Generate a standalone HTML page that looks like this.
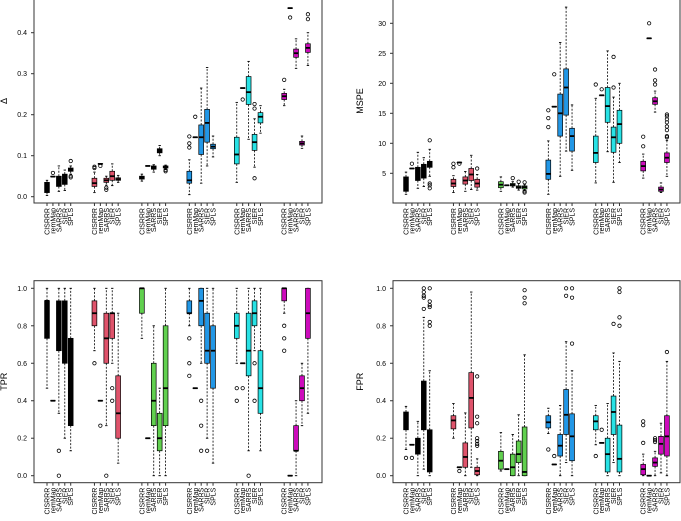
<!DOCTYPE html>
<html><head><meta charset="utf-8"><style>
html,body{margin:0;padding:0;background:#fff;width:681px;height:521px;overflow:hidden}
svg text{font-family:"Liberation Sans",sans-serif}
</style></head><body>
<svg id="chart" xmlns="http://www.w3.org/2000/svg" width="681" height="521" viewBox="0 0 681 521"></svg>
<script>
const methods = ["CISRRR","remMap","SARRS","SIER","SPLS"];
const groupColors = ["#000000","#DF536B","#61D04F","#2297E6","#28E2E5","#CD0BBC"];
const groupColorsDelta = ["#000000","#DF536B","#000000","#2297E6","#28E2E5","#CD0BBC"];

// Panel 1: Delta  [lo,q1,med,q3,hi]
const deltaStats = [
[0.003,0.01,0.02,0.035,0.04],[0.049,0.049,0.049,0.049,0.049],[0.013,0.025,0.035,0.05,0.075],[0.015,0.03,0.04,0.055,0.065],[0.055,0.062,0.066,0.07,0.075],
[0.01,0.025,0.033,0.045,0.06],[0.08,0.08,0.08,0.08,0.08],[0.028,0.035,0.04,0.045,0.05],[0.027,0.04,0.05,0.062,0.08],[0.035,0.04,0.043,0.046,0.052],
[0.038,0.043,0.047,0.05,0.055],[0.075,0.075,0.075,0.075,0.075],[0.06,0.067,0.072,0.075,0.078],[0.1,0.107,0.112,0.117,0.125],[0.067,0.07,0.073,0.075,0.077],
[0.005,0.033,0.04,0.062,0.09],[0.145,0.145,0.145,0.145,0.145],[0.033,0.103,0.145,0.175,0.265],[0.075,0.133,0.18,0.213,0.315],[0.097,0.117,0.122,0.128,0.148],
[0.035,0.08,0.103,0.145,0.23],[0.265,0.265,0.265,0.265,0.265],[0.14,0.225,0.255,0.293,0.33],[0.072,0.113,0.133,0.152,0.19],[0.155,0.18,0.195,0.205,0.222],
[0.222,0.237,0.245,0.252,0.262],[0.46,0.46,0.46,0.46,0.46],[0.313,0.34,0.35,0.36,0.385],[0.118,0.126,0.13,0.135,0.148],[0.32,0.352,0.363,0.373,0.4]];
const deltaOut = [[],[0.058],[],[],[0.087,0.05,0.047],
[0.07,0.073],[0.075],[0.022,0.017],[],[],
[],[],[],[],[0.065,0.062],
[0.12,0.13,0.147],[0.195],[],[],[],
[],[0.237],[],[0.045,0.215,0.226],[],
[0.285],[0.437],[],[],[0.433,0.445]];

// Panel 2: MSPE
const mspeStats = [
[1.5,2,3,4.4,5.2],[5.8,5.8,5.8,5.8,5.8],[2.5,3.8,5,6,8.5],[2.8,4.2,5.5,6.5,7.6],[4.5,6,6.3,7,9],
[1.8,2.8,3.3,4,4.6],[6.8,6.8,6.8,6.8,6.8],[2,3.2,3.8,4.4,5.3],[2.3,3.8,4.8,5.8,8],[2.2,2.7,3.3,4,4.8],
[2,2.6,3.1,3.6,4.4],[3,3,3,3,3],[2.7,2.9,3.1,3.3,3.6],[2.2,2.5,2.7,2.9,3.3],[2.1,2.4,2.7,2.9,3.1],
[1.5,4,4.9,7.2,10.4],[16.1,16.1,16.1,16.1,16.1],[4.5,11.2,15,18.2,26.8],[8.7,14.7,19.3,22.4,32.7],[5.5,8.7,11.2,12.5,16.4],
[3.4,6.8,8.4,11.2,17.5],[18,18,18,18,18],[8.6,13.5,16.2,19.3,25.4],[3.5,8.5,11,12.7,17.7],[6.8,10,13.2,15.5,20],
[4.2,5.4,6.2,7,8.2],[27.5,27.5,27.5,27.5,27.5],[15.2,16.5,17,17.6,18.7],[1.8,2,2.3,2.7,3.4],[4.5,6.8,7.6,8.4,10.5]];
const mspeOut = [[],[6.6],[],[],[10.5,3.3,3,2.5],
[6,6.6],[6.6],[],[],[5.8],
[],[],[4.2],[3.6],[3.5,2,1.8],
[12.7,14.2,15.5],[21.5],[],[],[],
[19.8],[19],[],[19.3,24.4],[],
[9.5,11.1],[30],[19.8,20.5,22.3],[],[11,11.2,12.2,12.8,13.5,14,14.5,14.8]];

// Panel 3: TPR
const tprStats = [
[0.467,0.733,0.933,0.933,1],[0.4,0.4,0.4,0.4,0.4],[0.333,0.667,0.867,0.933,1],[0.2,0.6,0.733,0.933,1],[0.133,0.267,0.6,0.733,1],
[0.667,0.8,0.867,0.933,1],[0.4,0.4,0.4,0.4,0.4],[0.267,0.6,0.733,0.867,1],[0.6,0.733,0.867,0.867,1],[0.067,0.2,0.333,0.533,0.867],
[0.733,0.867,1,1,1],[0.2,0.2,0.2,0.2,0.2],[0,0.267,0.4,0.6,0.8],[0,0.133,0.2,0.333,0.467],[0,0.267,0.467,0.8,1],
[0.8,0.867,0.867,0.933,1],[0.467,0.467,0.467,0.467,0.467],[0.6,0.8,0.933,1,1],[0.2,0.6,0.667,0.867,1],[0.067,0.467,0.667,0.8,1],
[0.6,0.733,0.8,0.867,1],[0.6,0.6,0.6,0.6,0.6],[0.133,0.533,0.667,0.867,1],[0.667,0.8,0.867,0.933,1],[0.133,0.333,0.467,0.667,1],
[0.867,0.933,1,1,1],[0,0,0,0,0],[0,0.133,0.133,0.267,0.4],[0.267,0.4,0.467,0.533,0.6],[0.333,0.733,0.867,1,1]];
const tprOut = [[],[],[0.133,0],[],[],
[0.6],[0.267],[0],[0.467,0.4],[],
[],[],[],[],[],
[0.733,0.6,0.533],[],[0.4,0.267,0.133],[0.133],[],
[0.467,0.4],[0.467],[0],[0.6,0.4],[],
[0.8,0.733,0.667],[],[],[],[]];

// Panel 4: FPR
const fprStats = [
[0.14,0.245,0.3,0.34,0.37],[0.165,0.165,0.165,0.165,0.165],[0,0.115,0.16,0.2,0.29],[0.035,0.245,0.3,0.505,0.845],[0,0.02,0.1,0.245,0.56],
[0.2,0.25,0.295,0.32,0.385],[0.045,0.045,0.045,0.045,0.045],[0,0.045,0.1,0.175,0.335],[0.045,0.255,0.415,0.55,0.98],[0,0.005,0.025,0.045,0.09],
[0.025,0.035,0.08,0.13,0.23],[0.035,0.035,0.035,0.035,0.035],[0,0,0.045,0.115,0.22],[0,0.07,0.115,0.185,0.325],[0,0,0.02,0.26,0.645],
[0.225,0.255,0.285,0.32,0.36],[0.06,0.06,0.06,0.06,0.06],[0,0.105,0.16,0.22,0.375],[0.07,0.22,0.325,0.46,0.715],[0,0.08,0.21,0.33,0.56],
[0.165,0.245,0.29,0.32,0.375],[0.175,0.175,0.175,0.175,0.175],[0,0.02,0.115,0.2,0.385],[0.07,0.22,0.34,0.425,0.655],[0,0.02,0.09,0.27,0.61],
[0,0.005,0.035,0.06,0.115],[0,0,0,0,0],[0,0.05,0.07,0.095,0.13],[0.015,0.115,0.17,0.21,0.28],[0,0.105,0.21,0.32,0.61]];
const fprOut = [[0.095],[0.095],[],[0.89,0.95,0.96,0.98,1.0],[0.8,0.82,0.9,0.91,0.93,1.0],
[],[0.025],[],[],[0.16,0.17,0.185,0.2,0.28,0.315,0.53],
[],[],[],[],[0.92,0.95,0.99],
[0.14],[0.105],[],[0.96,1.0],[0.705,0.95,1.0],
[0.105],[0.245],[],[0.81],[0.8,0.845,0.98,1.0],
[0.175,0.27,0.29],[],[0.18,0.19,0.2],[],[0.66]];

const deltaTicks = [0.0,0.1,0.2,0.3,0.4];
const deltaTickLabels = ["0.0","0.1","0.2","0.3","0.4"];
const mspeTicks = [5,10,15,20,25,30];
const mspeTickLabels = ["5","10","15","20","25","30"];
const rateTicks = [0,0.2,0.4,0.6,0.8,1.0];
const rateTickLabels = ["0.0","0.2","0.4","0.6","0.8","1.0"];

const NS="http://www.w3.org/2000/svg";
const svg=document.getElementById('chart');
function mk(tag,attrs,parent){const e=document.createElementNS(NS,tag);for(const k in attrs)e.setAttribute(k,attrs[k]);(parent||svg).appendChild(e);return e;}

const panels=[
 {name:'delta-panel',left:34,right:322,top:-1,bottom:203,v0:0,y0:196.7,v1:0.4,y1:32.7,stats:deltaStats,out:deltaOut,ticks:deltaTicks,tl:deltaTickLabels,title:'Δ',tx:7,cols:groupColorsDelta},
 {name:'mspe-panel',left:393,right:680,top:-1,bottom:203,v0:5,y0:173.3,v1:30,y1:23.3,stats:mspeStats,out:mspeOut,ticks:mspeTicks,tl:mspeTickLabels,title:'MSPE',tx:363,cols:groupColors},
 {name:'tpr-panel',left:34,right:322,top:280.7,bottom:482.7,v0:0,y0:475.7,v1:1,y1:288.3,stats:tprStats,out:tprOut,ticks:rateTicks,tl:rateTickLabels,title:'TPR',tx:7,cols:groupColors},
 {name:'fpr-panel',left:393,right:680,top:280.7,bottom:482.7,v0:0,y0:475.7,v1:1,y1:288.3,stats:fprStats,out:fprOut,ticks:rateTicks,tl:rateTickLabels,title:'FPR',tx:363,cols:groupColors}
];

panels.forEach(P=>{
 const g=mk('g',{});
 
 
 const yS=v=>P.y0+(v-P.v0)*(P.y1-P.y0)/(P.v1-P.v0);
 const xS=p=>P.left+13+(p-1)*5.93;
 const frame=mk('rect',{x:P.left,y:P.top,width:P.right-P.left,height:P.bottom-P.top,fill:'none',stroke:'#333',"stroke-width":1},g);
 
 
 P.ticks.forEach((t,i)=>{
  const y=yS(t);
  mk('line',{x1:P.left-3,x2:P.left,y1:y,y2:y,stroke:'#333'},g);
  const tx=mk('text',{x:P.left-7,y:y+2.5,"font-size":7,"text-anchor":"end",fill:'#000'},g);
  tx.textContent=P.tl[i];
  
  
 });
 const cy=(P.top+P.bottom)/2;
 const tt=mk('text',{x:P.tx,y:cy,"font-size":9,"text-anchor":"middle",transform:`rotate(-90 ${P.tx} ${cy})`,fill:'#000'},g);
 tt.textContent=P.title;
 
 
 for(let gi=0;gi<6;gi++){
  for(let m=0;m<5;m++){
   const idx=gi*5+m, p=gi*8+m+1, x=xS(p);
   const s=P.stats[idx], col=P.cols[gi];
   mk('line',{x1:x,x2:x,y1:P.bottom,y2:P.bottom+3,stroke:'#333'},g);
   const lb=mk('text',{x:0,y:0,"font-size":7,"text-anchor":"end",transform:`translate(${x+2.5},${P.bottom+5}) rotate(-90)`,fill:'#000'},g);
   lb.textContent=methods[m];
   
   
   const bg=mk('g',{},g);
   
   
   const yl=yS(s[0]),y1=yS(s[1]),ym=yS(s[2]),y3=yS(s[3]),yh=yS(s[4]);
   const bw=4.8;
   mk('line',{x1:x,x2:x,y1:y3,y2:yh,stroke:'#000',"stroke-width":0.8,"stroke-dasharray":"2,1.5"},bg);
   mk('line',{x1:x,x2:x,y1:y1,y2:yl,stroke:'#000',"stroke-width":0.8,"stroke-dasharray":"2,1.5"},bg);
   mk('line',{x1:x-1.2,x2:x+1.2,y1:yh,y2:yh,stroke:'#000',"stroke-width":0.9},bg);
   mk('line',{x1:x-1.2,x2:x+1.2,y1:yl,y2:yl,stroke:'#000',"stroke-width":0.9},bg);
   mk('rect',{x:x-bw/2,y:y3,width:bw,height:Math.max(y1-y3,0.01),fill:col,stroke:'#000',"stroke-width":0.7},bg);
   mk('line',{x1:x-bw/2,x2:x+bw/2,y1:ym,y2:ym,stroke:'#000',"stroke-width":1.8},bg);
   P.out[idx].forEach(o=>{
    mk('circle',{cx:x,cy:yS(o),r:1.7,fill:'none',stroke:'#000',"stroke-width":0.8},bg);
   });
  }
 }
});
</script>
</body></html>
